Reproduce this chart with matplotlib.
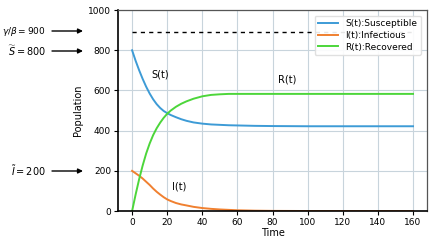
import matplotlib

matplotlib.use("Agg")

import matplotlib.pyplot as plt

# values
time = [0, 2, 4, 6, 8, 10, 12, 14, 16, 18, 20, 22, 25, 28, 31, 35, 40, 45, 50,
        55, 60, 70, 80, 100, 120, 140, 160]
susceptible = [800, 748, 701, 658, 619, 585, 556, 532, 513, 498, 487, 478, 467,
               457, 449, 441, 435, 431, 429, 427, 426, 424, 423, 422, 422, 422, 422]
infectious = [200, 188, 176, 162, 146, 130, 112, 96, 82, 69, 58, 50, 40, 33, 28,
              21, 15, 11, 8, 6, 4, 2, 1, 0.3, 0.1, 0, 0]
recovered = [0, 82, 158, 226, 286, 336, 378, 412, 440, 464, 484, 500, 519, 534,
             546, 559, 571, 578, 581, 583, 583, 583, 583, 583, 583, 583, 583]
threshold = 890
x_ticks = [0, 20, 40, 60, 80, 100, 120, 140, 160]
y_ticks = [0, 200, 400, 600, 800, 1000]

fig = plt.figure(figsize=(4.34, 2.46), dpi=100)
ax = fig.add_axes([0.272, 0.142, 0.712, 0.817])

ax.plot(time, susceptible, color="#3d9bd6", lw=1.4, label="S(t):Susceptible")
ax.plot(time, infectious, color="#f08030", lw=1.4, label="I(t):Infectious")
ax.plot(time, recovered, color="#4cd63a", lw=1.4, label="R(t):Recovered")
ax.plot([0, 160], [threshold, threshold], color="black", lw=1.0, ls=(0, (3, 3)))

ax.set_xlim(-8, 168)
ax.set_ylim(0, 1000)
ax.set_xticks(x_ticks)
ax.set_yticks(y_ticks)
ax.tick_params(labelsize=6.5, length=3, width=0.8, pad=2)
ax.grid(True, color="#c8d4dc", lw=0.8)
ax.set_axisbelow(True)
ax.set_xlabel("Time", fontsize=7, labelpad=1)
ax.set_ylabel("Population", fontsize=7, labelpad=4)
for side in ("left", "bottom"):
    ax.spines[side].set_color("black")
    ax.spines[side].set_linewidth(1.2)
for side in ("top", "right"):
    ax.spines[side].set_color("#555555")
    ax.spines[side].set_linewidth(0.9)

leg = ax.legend(loc="upper right", fontsize=6.5, framealpha=0.9, handlelength=2.2,
                borderpad=0.4, labelspacing=0.3, bbox_to_anchor=(0.995, 0.995))
leg.get_frame().set_edgecolor("#dddddd")

ax.text(11, 678, "S(t)", fontsize=7, va="center")
ax.text(83, 653, "R(t)", fontsize=7, va="center")
ax.text(23, 122, "I(t)", fontsize=7, va="center")

# annotations outside the axes, placed in figure pixels
labels = [(r"$\gamma/\beta = 900$", 215, 6.5), (r"$\widetilde{S} = 800$", 195, 7),
          (r"$\widetilde{I} = 200$", 75, 7)]
for text, ypix, size in labels:
    fig.text(46 / 434, ypix / 246, text, fontsize=size, ha="right", va="center")
    ax.annotate("", xy=(83, ypix), xytext=(52, ypix), xycoords="figure pixels",
                textcoords="figure pixels",
                arrowprops=dict(arrowstyle="-|>", color="black", lw=1.0,
                                mutation_scale=7, shrinkA=0, shrinkB=0))

fig.savefig("out.png", dpi=100)
